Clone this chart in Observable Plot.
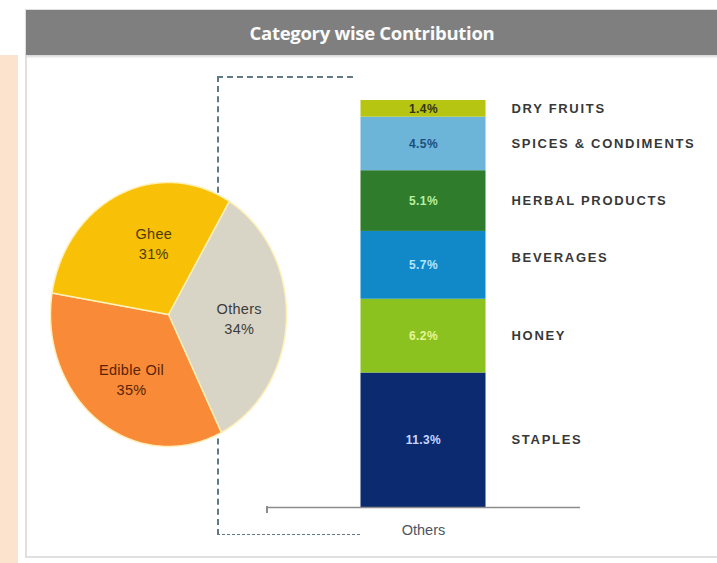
<!DOCTYPE html>
<html><head><meta charset="utf-8">
<script src="https://cdn.jsdelivr.net/npm/d3@7"></script>
<script src="https://cdn.jsdelivr.net/npm/@observablehq/plot@0.6"></script>
<style>
body{margin:0;background:#fff;width:717px;height:563px;overflow:hidden;position:relative;font-family:"Liberation Sans",Arial,sans-serif}
.abs{position:absolute}
.dash{position:absolute;border-color:#617885;border-style:dashed;border-width:0}
</style></head><body>
<div class="abs" style="left:0;top:55px;width:18px;height:508px;background:#fbe3cd"></div>
<div class="abs" style="left:25px;top:9px;width:710px;height:549px;border:2px solid #e0e0e0;box-sizing:border-box"></div>
<div class="abs" id="title" style="left:26px;top:10px;width:700px;height:45px;background:#7f7f7f;color:#fbfbfb;font:bold 18.5px 'Open Sans',sans-serif;letter-spacing:-0.3px;display:flex;align-items:center;justify-content:center;box-shadow:0 2px 2px #d8d8d8"><span style="margin-left:-8px">Category wise Contribution</span></div>
<div class="dash" style="left:217px;top:76px;width:136px;height:0;border-top-width:2px"></div>
<div class="dash" style="left:217px;top:76px;width:0;height:459px;border-left-width:2px"></div>
<div class="dash" style="left:217px;top:534px;width:143px;height:0;border-top-width:1.5px"></div>
<div class="abs" style="left:266px;top:506px;width:1.5px;height:7px;background:#8c8c8c"></div>
<div id="pie" class="abs" style="left:38px;top:170px"></div>
<div id="bar" class="abs" style="left:250px;top:60px"></div>
<script>
// ---- Pie data ----
const pieNames  = ["Others", "Edible Oil", "Ghee"];
const pieValues = [34, 35, 31];
const pieColors = ["#d8d5c6", "#f88a38", "#f8c107"];
const pieText   = ["#3c3c3c", "#5a2306", "#4a3a08"];
const pieStart  = 31; // degrees clockwise from north

// ---- Bar data (bottom to top) ----
const barNames  = ["STAPLES", "HONEY", "BEVERAGES", "HERBAL PRODUCTS", "SPICES & CONDIMENTS", "DRY FRUITS"];
const barValues = [11.3, 6.2, 5.7, 5.1, 4.5, 1.4];
const barColors = ["#0b2a6f", "#8cc220", "#1189c9", "#2e7c2c", "#6cb4d8", "#b6c412"];
const barText   = ["#c9d6ff", "#e4f59a", "#b3e6ff", "#b8f0a0", "#1d4f7e", "#333310"];
const barGroup  = "Others";

const FONT = "'Liberation Sans', Arial, sans-serif";

// ---- Pie geometry from values ----
const total = d3.sum(pieValues);
const pts = [];
const labels = [];
let a0 = pieStart;
pieNames.forEach((n, i) => {
  const span = pieValues[i] / total * 360;
  const a1 = a0 + span;
  pts.push({name: n, x: 0, y: 0});
  const steps = Math.ceil(span);
  for (let k = 0; k <= steps; k++) {
    const a = (a0 + span * k / steps) * Math.PI / 180;
    pts.push({name: n, x: Math.sin(a), y: Math.cos(a)});
  }
  pts.push({name: n, x: 0, y: 0});
  const am = (a0 + span / 2) * Math.PI / 180;
  labels.push({name: n, x: 0.6 * Math.sin(am), y: 0.6 * Math.cos(am),
               text: n + "\n" + pieValues[i] + "%", color: pieText[i]});
  a0 = a1;
});

const pieLabelOpts = {x: "x", y: "y", text: "text", fill: "color", fontSize: 14.5, lineHeight: 1.4};
const pie = Plot.plot({
  width: 260, height: 290, margin: 0,
  x: {domain: [-1, 1], range: [12, 248], axis: null},
  y: {domain: [-1, 1], range: [276, 12], axis: null},
  color: {domain: pieNames, range: pieColors},
  style: {background: "transparent", overflow: "visible", fontFamily: FONT},
  marks: [
    Plot.line(pts, {x: "x", y: "y", z: "name", fill: "name", stroke: "#fff0b8", strokeWidth: 1.5, curve: "linear"}),
    Plot.text(labels.filter(d => d.name === "Others"), {...pieLabelOpts}),
    Plot.text(labels.filter(d => d.name === "Edible Oil"), {...pieLabelOpts, dx: 5}),
    Plot.text(labels.filter(d => d.name === "Ghee"), {...pieLabelOpts, dx: 15})
  ]
});
d3.select(pie).selectAll("text").style("letter-spacing", "0.3px");
document.getElementById("pie").appendChild(pie);

// ---- Bar chart ----
let cum = 0;
const rows = barNames.map((n, i) => {
  const r = {name: n, value: barValues[i], mid: cum + barValues[i] / 2, color: barColors[i], tcolor: barText[i], group: barGroup};
  cum += barValues[i];
  return r;
});
const catOpts = {x: "group", y: "mid", text: "name", dx: 88, textAnchor: "start", fontWeight: "bold", fontSize: 13, fill: "#383838"};
const bar = Plot.plot({
  width: 467, height: 485,
  marginLeft: 16, marginRight: 137, marginTop: 40, marginBottom: 38,
  x: {domain: [barGroup], padding: 0, label: null},
  y: {domain: [0, d3.sum(barValues)], axis: null},
  style: {background: "transparent", overflow: "visible", fontFamily: FONT},
  marks: [
    Plot.barY(rows, {x: "group", y: "value", fill: "color", insetLeft: 94.5, insetRight: 94.5, order: null}),
    Plot.ruleY([0], {stroke: "#8c8c8c", strokeWidth: 1.5}),
    Plot.text(rows, {x: "group", y: "mid", text: d => d.value.toFixed(1) + "%", fill: "tcolor", fontSize: 12, fontWeight: "bold"}),
    Plot.text(rows.filter(d => d.name !== "BEVERAGES"), catOpts),
    Plot.text(rows.filter(d => d.name === "BEVERAGES"), {...catOpts, dy: -7}),
    Plot.axisX({tickSize: 0, tickPadding: 17, fontSize: 14.5, fill: "#4c5564", label: null})
  ]
});
const textGroups = d3.select(bar).selectAll('g[aria-label="text"]').nodes();
d3.selectAll(textGroups.slice(1, 3)).selectAll("text").style("letter-spacing", "1.7px");
d3.select(textGroups[0]).selectAll("text").style("letter-spacing", "0.4px");
document.getElementById("bar").appendChild(bar);
</script>
</body></html>
